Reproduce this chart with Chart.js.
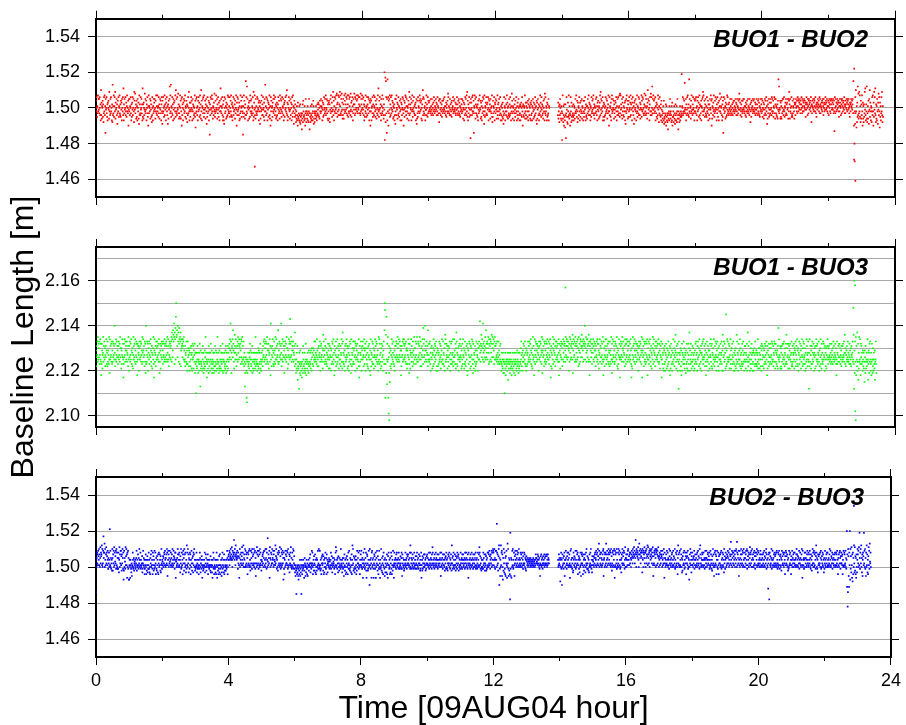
<!DOCTYPE html>
<html>
<head>
<meta charset="utf-8">
<title>Baseline Length</title>
<script src="https://cdn.jsdelivr.net/npm/chart.js@4.4.0/dist/chart.umd.min.js"></script>
<style>
  body { margin: 0; background: #fff; }
  #wrap { position: relative; width: 906px; height: 725px; }
  #wrap canvas { position: absolute; left: 0; top: 0; }
</style>
</head>
<body>
<div id="wrap">
  <canvas id="p1" width="906" height="725"></canvas>
  <canvas id="p2" width="906" height="725"></canvas>
  <canvas id="p3" width="906" height="725"></canvas>
</div>
<script>
// One solution every 30 s, one string per hour (spaces only split it into 5-min blocks).
// Each char is the offset from the base in mm: 0 = base, A..Z = +1..+26,
// a..z = -1..-26, '.' = no solution for that epoch.
const buo12Base = 1.500;
const buo12 = [
  "DbF0eAcGbE aEcF0dBgJd CfA0DeBhcF bGdAnEa0Fc eBgC0DafIb AdEcFb0gBh MdAcGeAFbI fCa0EdBicD bFeA0GcdBe DaCgE0bFdK gBcEa0FdbC eAGb0cDjaE",
  "bEdA0FcgBe CaFd0EbhID aHc0BfDeAg E0bCfiGdBc dFa0EcBgKe BfC0daHbEc aDgB0FcejA GcA0bEfDaB ehdF0gAcEb CaE0fDbGcA dGb0AeFcBf 0EaDcgBFbi",
  "DcFb0eAGdB aEgC0FbdAi BfDa0ELcGb MeA0cFdBgE aCfD0bGeJc EbdF0aHcBf cAeG0DfbEj FdB0gCaEcD bGeA0fDcBh AdFc0IbgCa eCbF0DagEb BfAd0cGeDk",
  "cEbF0dAgDb FaCe0GdBfJ bDgA0EcFae GcaD0fBEbi AeFc0bDgCa oBdFaE0cGb EfA0dCbHae cDbG0aEfBc FaeC0gDbAK bEcA0FdgBe DgiF0cEbAf C0eBdGaFcb",
  "AcFe0DbGdB eCgA0FdbEa BfDc0GajCd FbEa0dCgAf cGbD0eAFbc oAeGcD0fBd OdFbLcE0gA aCfD0eGbDc EbdA0FcgIe CaGd0fEbAc dFbE0aCgDb AiCf0bDGad",
  "BdFa0eCgEb MbAdF0cEgD aCeB0GdfAj FbDg0AeCbE cGaE0dFbBf AeCd0gBFac DbfG0cEaDe bFcA0EdgBC eDaF0bGcJd CgBe0FaDbf aEdC0gBFce GbAi0DceBa",
  "dhbfAgdjCe fcgAdhBiec gdlcfBhDbe dgAfjcEbhd bfcAgdhbEc lcehAfdgBc egbDAifchb dcfAbegdBc aCdBe0fDbA cEbA0DgaCe BdFa0cEbGd 0aEcDfBgbC",
  "DfBhaEcGb0 CebFaIdDgA bFcEa0GcHB eCbGdaFBdI AGcdEbHaCf dEBfaGcDbH BaFcE0dGBe GbcEAFbdHa CeDbFAgcEB aHBdFcEa0G DbEcG0aFBc FAcdHbEBaG",
  "0cEaFdBgAe DbGc0eAFdB aFcE0gDbCj EbDg0AcFeB cGdA0FbeDa BfEc0dGaKb eDaF0cBgEd AcGb0EdfBa TrdQhOFcnE gPbFjDcEaG eBdF0cGaDb CfAe0BgdEi",
  "bEdG0aCfBd FcAe0DbgEa CgBd0FaEcj aDeC0GbFdA EbfA0cDgBI dFcB0aEgCb GaeD0bFcAd BdCg0EifDc eFbA0DcGbE CaDf0gBEJd FbEc0AdgCa aGdB0eFcDb",
  "CbDa0cEbAd aEcB0dCbFa DcAb0EaCdB bFdA0cDhEc EaCd0bBeDa cDbE0aFcAb AdCe0BbDcH FbAc0dEaBd bCeD0aAFcb DaEb0cCdBa aFcB0dDbEc CdAe0bEaBc",
  "EbDf0aCgBd aFcE0dGbIe DgBc0FeaCd qEaC0dFbGc bDnA0GcEfB FcAd0eBgDa cEbG0aDfCe AgDc0FbEdi GbeA0CdFcB dCaF0gEbDa BfEb0cAGeh eDcA0FbgCB",
  "cEaDf0bGdB fCbE0daFcg AdgB0eCfbi dFcA0gEbdB bGeC0fAdcE eBdF0cgAbH DcfA0bEgcB aeDc0FbgAd CfbE0dAgcB gAdC0eFbjA BdeA0cGfbC dAfC0beDgB",
  "bEdA0fCgBd DcgA0EbfCa eBdF0cAgDi CfaE0dBgcA dGbC0eFaBd AcfD0bEgHc FdbA0gCeBd cEgA0..... .......... .......... .....dCfbA hBdE0cfAgb",
  "rcGfhAdjBe gkBdqcFaeh iCbeGdfAcj dFbhCegAdc eBgdA0fcEb cGaeDbhCfA 0dFbgCeaDc bEfA0cgDbe DcaF0gBedA fAcE0bGdCa BdgA0eFcbD aEcG0dBfAc",
  "0cEbFdAgCa DbfA0eCGdI aEcD0bFgAe CgBe0dAFcb EaDf0cBGbj bFdA0eCgEa GcbE0aDfBc aDeC0FbgAd EbFd0cAGeH cGaB0dEfCb FdAe0bCgDi bEcG0aDfBe",
  "DbFa0eCGdB aEgC0FbdAi CfDa0EbgBc GbeA0cFdEa dCfB0aGeDb FaEc0dBHcA bGdE0cAfCJ EcaD0gBFbd HbFd0LcEaG aDcE0bFgAc CeBf0dGaEh AcFd0eBgDa",
  "dhbfcAgDie fchdBjAegc hdlcfbgAdE cfbdhAgCje ebhdAfcigB dgcAhbEfdl bfdhcAgebd eScA0FdbEc DbNa0cEgBd aFcG0dBePb Ec0AfDbGca dBFa0cEgbD",
  "bEcF0dAgDb FaCe0GdBfA cDgA0EbFId GbaD0eBEcd AeFb0cDgBa dBfE0aGcDj EfA0dCbGae cDbF0aEgBc FaeC0gDbAH bEcA0FdgBe DnaF0cEbAf C0eBdGaFcb",
  "BdCa0cEbAd aEcB0dCbDa DcAb0EaCdB bEdA0cDaEH EaCd0bBeDa cDbE0aEcAb AdCe0BbDca EbAc0dEaBh bCeD0aAEcb DaEb0cCdBa aEcB0dDbEc CdAe0bEaBc",
  "EbDe0aCfBd aEcD0dFbAi DfBc0EeaCd cEaC0dFbEc bDeA0FcEfB EcAd0eBfDa PbLc0aDfCe AfDc0EbEda FbeA0CdEcB dCaE0fEbDI BfEb0cAFed eDcA0EbfCB",
  "BdCE0AbDcF AEbD0CaEBc DaBF0cEAbD CbEA0DaCeB aFCB0dEAcD EBaC0DbFAh BcDA0EaCbE DAbF0cBeCA aCEB0DbAFc EBcA0CaDbE CAdE0BbCaF BDaC0EbAcD",
  "AdCE0BbDcE BEaD0CaEBc DbmF0cEAbC CaEB0DbCeA bECA0dEBcD EAbC0DaFBc AcDB0EaCbE DBaE0cAeCB bCEA0DaBEc OcjVtbiFcJ bkAhCeLdHf cIbGeAhDfB",
  "dGbjCfAhBe cIaKdgBbLf hcAfDbiEaJ eCbgA0hbFd GbjCeIaFcK dhBfAgEbiC aHdFbkCeAg cFbIdhAe"
];
// solutions outside the +-26 mm range: [hour, metres]
const buo12Extra = [[4.77, 1.467], [22.77, 1.471], [22.79, 1.470], [22.81, 1.459]];

const buo13Base = 2.127;
const buo13 = [
  "BeDa0FcHbE CaFd0GbEci dEBf0AHcDa FbCe0DaGBd AeFcB0dHbh GbDa0EcFdB cFaE0DbMAe EbGc0FaDBd aDFb0EcHaC CfBd0GaEbj dEaG0cFBDb BFcA0DeHbg",
  "DaFc0EbGBd AeCf0HbDaE cGBd0FaEci EbDA0gCFbD aFcE0BdHAc GBaD0eFcEh MdBc0FaEgA CbFd0EaGBc eDAf0CbHdj BGcA0DeFbC FaDb0EcGAh cEBf0DaFbE",
  "BdFa0EcGbD aEcF0DbHAc GbDe0FaECb DFHcJGaBKI FNHdJGLbQW HIKDaMFJcE LGdHFJeBGD CEaGDFbHBc bDeA0cFdBg dFaC0eBgcA eCbD0fAgEb aDfB0cEhAd",
  "qcAefbDAhc bgdAEcnBfd ceAgbDfAhc dfBeaHcAgb jdcAfbhDAe cgAbEdfBch bdfAcheAgD ecBdgAfbHc dAchfBegbD fcAdbgEAhc bgcAedfBDh cAegbDfAcb",
  "CEaGBNFbhA DCGaKEBcfA IDbAGCe0bD FcHAEbGDaC EBdGaFcHbD dbFaeAcnhd abgsuchbAe dcfAaEbBgd eAbDhcfAgb cdAfbHeAcd bgdAeCfBdh AcEfbdgAcb",
  "BeDa0FcGbE CaFd0EbHcB dEBf0AGcDi NbCe0DaGBd AeFcB0dHbC GbDa0EcKdB cFaE0DbNAe EbGc0FaDBh aDFb0EcHaC CfBd0GaEbF PEaH0cFBDb BFcA0DeJbE",
  "dhbfAgDkce fcoAdhBiec gdjcfAhDbe dgAfhcEbid bfcAgdhBec ecAdfBbgCa AdCe0BbFca FbAc0dGaBe bCeD0aAFcg DaEb0cCfBI aFcB0dDbGc CdAe0bEaBf",
  "EbDf0aCgBd aFcE0dGbAi DgBc0FeaCd GcaD0fBEbd bDeA0GcEfJ FcAd0eBgDa cEbG0aDfCe AgDc0FbEdh GbeA0CdFcB dCaF0gEbDa BfEb0cAGej eDcA0FbgCB",
  "DbFa0eCGdB aEgC0FbdAe CfDa0EbgBi GbeA0cFdEa dCfB0aGeDb FaEc0dBgcH bGdE0cAfCe EcaD0gBFbd KWTsdIhQbm EcHbsaDhAl CeBf0dGaEb AcFd0eBgDa",
  "aDFb0EcHaC EbGc0FaDBi BeDa0FcGbE GbDa0EcFdB CfBd0GaEbh dEBf0AGcDa AeFcB0dHbC CaFd0EbHcj cFaE0DbHAe FbCe0DaGBd LEaG0cMBDb BFcA0DeKbE",
  "0cEbFdAgCa DbfA0eCGdB aEcD0bFgAe CgBe0dAFcb EaDf0cBGbd bFdA0eCgEI GcbE0aDfBc aDeC0FbgAd EbFd0cAGea cGaB0dEfCJ FdAe0bCgDa bEcG0aDfBe",
  "bEdG0aCfBd FcAe0DbgEi CgBd0FaEcf aDeC0GbFdh EbfA0cDgBe dFcB0aEgCb CFbDOAcEBI DaGCbNEAcF BDaHbCKaEA FbECHAdGcE DGbFAcIEaH CEaGBdFbHD",
  "DbEa0cFbAd aFcB0dDbEc cgdAebfAhc bhdqcAfidb ecgbAdkcfA bdhcAfbeic dfAcgbehAd cibdAfgcBe bdAhcfeAgc dCbF0eAgcB aEcD0bFdAe CgBe0dAFcb",
  "DaFc0EbGBd AeCf0HbDai cGBd0FaEcB EbDA0gCFbD aFcE0BdHAh GBaD0eFcEb BdFc0EaGAb CbFd0EaGBj eDAf0CbHdE BGcA0DeFbC FaDb0EcGAi cEBf0DaFbE",
  "CeEbGAcFDa EBcH0DaGFb DaFCBgEcHA GbDaECFbIh BEGa0FcDHb EcADFbGaCe HBdEAcGFaD CIaFDBcGEb FDMbECHAcG BGaDEcIbFi DcFBGaEAdC EAGbDcFBaE",
  "BeDa0FcGbE dEBf0AGcDa CaFd0EbHci FbCe0DaGBd GbDa0EcFdB AeFcB0dHbh EbGc0FaDBd cFaE0DbHAe CfBd0GaEbj aDFb0EcHaC BFcA0DeGbE dEaG0cFBDb",
  "DaFc0EbGBd jeCf0HbDaE cGBd0FaEcB EbDA0gCFbD aFcE0BdHAj GBaD0eFcEb AdFc0EaGib CbFd0EaGBc eDAf0CbHdE BGcA0DeFbC FaDb0EcGAd cEBf0DaFbj",
  "bEdA0fCgBd DcgA0EbfCa eBdF0cAgDi CfaE0dBgcA dGbC0eFaBI AcfD0bEgAc oFdbA0gCeB icEgA0bdFa dCfbA0hBdE cfAgbE0dCJ gBbdE0cfAc DebC0gAfdB",
  "bEcF0dAgDb FaCe0GdBfA cDgA0EbFad GbaD0eBEci AeFb0cDgBa dBfE0aGcDe EfA0dCbGae cDbF0aEgBc FaeC0gDbAd bEcA0FdgBI DgaF0cEbAf CReBdGaFcb",
  "cEaDf0bGdB fCbE0daFcg AdgB0eCfbI dFcA0gEbdB bGeC0fAdcE eBdF0cgAbD DcfA0bEgcJ aeDc0FbgAd CfbE0dAgcB gAdC0eFbdA BdeA0cGfbC dAfC0beDgB",
  "EbDe0aCfBd aEcD0dFbAi DfBc0EeaCd cEaC0dFbEc bDeA0FcEfB EcAd0eBfDa LbGc0aDfCe AfDc0EbEda FbeA0CdEcI dCaE0fEbDa BfEb0cAFed eDcA0EbfCB",
  "AcFe0DbGdB eCgA0FdbEa BfDc0GaeCd FbEa0dCgAf cGbD0eAFbc oAeGcD0fBd DdFbAcE0gA aCfD0eGbDc EbdA0FcgBe CaGd0fEbAc dFbE0aCgDb AeCf0bDGad",
  "CbDa0cEbAd aEcB0dCbFa DcAb0EaCdi bFdA0cDaEc EaCd0bBeDa cDbE0aFcAI AdCe0BbDca FbAc0dEaBd bCeD0aAFcb UIdoBhFycH iDbeJgcEkA fHcbGdiEaD",
  "dAcgBbeAfc lBahDcfbAe cGbkdBAhEc FbgdAicEbh eCgbAdfBkc bFdh"
];
const buo13Extra = [[8.79, 2.101], [8.81, 2.098], [14.1, 2.157], [22.78, 2.160], [22.80, 2.158], [22.82, 2.098]];

const buo23Base = 1.503;
const buo23 = [
  "qAcBEaDbFC AGbDcBHaEC DIbGcaFNBE EJcGAbDHaE CbFAdBaEcA RbFcBdaAeG BeDaFcHbE0 CaFdGbEcBd dEBfAHcDaF FbCeDaGBdE jeFcB0dHbC GbDiEcFdBj",
  "jbAciAbdfa hcbEAdcBea 0bAdcaBFeb AcDbdBaGcA bEdAcbaCfd aFbBcAgdbA DcgAebCfAd bEdAfcgBaD cFbAdgEbCe AdFbcEagBd eCbAfDgaEc bDAeCfbGad",
  "A0bCcBaEDb FAcBbDaGEh bAFDcBaF0b AEcBbDaGcA bFCaBdAEEi 0AcbBaGDcA DbEcAfCaGd cEbAgDFaBe GaDcEbfAdI bEcGaDfBAd EbDgAcFaeB aCfEbDGcAe",
  "cdAbEcfaAd bcgAdbEBcf aAdCbicAeb dcAbEfcaDB ecbAaDgcAb dAcbeCfbcA fbiAcEdBgc bdAfcgAEbi cAegbdCfbD gdbAchfBEd bAcfDgAebc ecAdbFBgcA",
  "CDAFbEBCGA DBHAcFCEBD LEAGCbIDBE ACFBdEaCbi BGcDAaEbCH AbEaIcBDAc GcFbDaEcBg EbDaFcGbAe cFaBEdGbCa DbGcEaFdBh aEcHbDFaCd FbDcGaEbAe",
  "A0bCDaEcBF FbAcGaBGdE AcM0bDBaFi HBcAEbDaGa BAFcDbFA0b IaCGBdAcEe DbFaEcHbCd aGcEbDFaBj EdBgAcFbDa CaFbEdGcAb DfCaEbHcBd bEAcGdFaCb",
  "dfbhcerdgb fchdjbegcA hdfbrAcgeb dAcbieBach bfcAdgahcb AebcBaDfca dbFaEcgbAe CaebDfAgcB eAcbFdaGbd cFbeAdgBaC bDaeCgAfcB aEcdBgDbAf",
  "a0bcBAd0cb AEdbCafcBb 0aBdcAgbEH cFbAdBafCc aeBcbAdGca bAfcBdaBhc DbeAcgBfaC cAgbEdaFbd eBcAfbDgAI bGaeCdBfcA dCbgAeFcaB aEdbFcgAbD",
  "bFcAdBaicE aAbGdcBaEe ibDCaedAFb cmGAbdBaiE FcAbBdiaDC bdAEicBaFb eCbgAdFcai AdcGbeBfaC gbEcAdhBfa cAfbDgaiCb EbdAcgBfaE dCgbAeFcbi",
  "aEbAcBadDA EbcAaBdEac AdbCacBEdh DaBbcAedAb aEcAbBdDaC bDaAcbBEdI cEaBdAbDca BdaEcbAdCb aCdEbAcBda DbaCeAdbEi bAeCdaBcDa cDbAeBdaCb",
  "DaBbcAEdbA aEcBbAdDaH EbAcaBdDbA cEaBbAcDdA aDbcAaBEch AEbcBadDAb bDcAeBaCdE cAdBeaDbCa EcBdAbDaeI aBdCbEcAdb DbAeCcaBdE bCaDeBcAbd",
  "bEaAcBdDaA DcbAaBdEcA aEBbcAdDai EbAcaBdDbA cEAbBadDcA aDcBbEdAcb BdaEcAbDcH EbCdaBecAd cAdEbBaDce aDbCeAdBcE bEcDaFbCdA DaBFcEbAGF",
  "EbAGcBdAFF AcUEbDaeCG ImBdhAcIbE FhDcjBeGaf EdgBhCaFbi cJaGdhBeAg uPdhBiAcFb GcdAEbhCaF DAcbBFaDcE AbGcBaAbEc DaBcEbAdCa bEaDcBdAeC",
  "A0bBacA0bB 0aAcBb0aAc b0AaBcb0Aa cAbDBaB0aA DbCaAcBdbh aCbDcAbBda CaAbDcBaCb bDaCcAbDaB Aa........ .......... .......... ....AcbDaB",
  "bAkcBEdAmc DbBadCaEhA cAFBbdaCEb AEcBbDaicF bGAcBdaBfe EAbCcBaFdA cFbDaEgAbC dBfAcEbhaD EaCbgDcAeB bDAfcEaGbd CadBeAfcDb aEcGbdAfCb",
  "A0bCcBaDEb BAFcDbEaGC AbJFcBDaEb EBcAbDaFGh ABEcDbEaJD cAFBbDaGEA DbFaEcGbCe aEcFbDAGci FbDcEaGdAc bEaGcDFbAd EcAfBDaGbE CaFbEdAHcB",
  "BDcADbAFGb ACbDEaEBcA DFBCaGEBDH CFaDBLEcGD FCEBHAcDJF DBGaECEFBf GAEcFDBHaE EcFBGaDCIb HBDaEFcGCA FDBGaECHbh CaEFbDGBcF EGbDFaCHBc",
  "CAEbDBaFDC BcFAbDaGBi EaBcAbDaFb AEcBbAdGCa FbAcBaDEcb AFbCcBaGdA cEbDaFcgBI aDbEcFbAcG DcBfAeCbEa bFdAcEaCgB EaCbFdBcAj cDaGbEAfCb",
  "EbAcBaCFdA bDAcBbDaEc AFbCaBdGcI DaBbcAEDbA cEAbBdAFcB aFBcAbDEaA CbEdAcFbDa dAeCbGaDch bEcFaDbCgA FcAdEbgCaD aDcEbFdAcB EbDcAfGaCd",
  "AEBcBbDaCF BaEcAbGDCa KAbDFcBEaE CbAFDcBaFG AcKEbDBaFh AbFcBaDGAb DaFcEbGAcB EcBaDFbAGd FbCAEcDaBH bEDaFcAGcB DAcEbFaCdE CbEAGcDbFa",
  "EbAcBaDFcA bDAcBbDaEc AFbCcBaEGd DAbcBoaDEu AEbCcaBGdA bFAcBbDaEc CbDaEcFbAd aEcDbFAdCb DcBeAFbCaE bDcEaAgCbF EaCbDcAeBd cFbDaEbAgC",
  "bAFcBaDcEA aEbAcBbDGc DAbCcBaFdA aEBbcADGbi FcAbBdAEcB EaBcAbDFAa cEbDAaFcBd DbAeCbGaEc aFcDbEAdCI EcBdAfDbCa bDaEcBFdAc CaEbDcAfBd",
  "aFbAcBDaEc EbAcBbaDGc AFbcCBaEdA DaBbcADEbA cEbDaFcAgB bDcEaFBdCa EaCbDgAcFb cEDbaFcBdA QnDyqGChnE bQjGdCfHbi DkEgBcIafH eCgBiDcfAG",
  "DaFcHbPBdE GaIcBfDhAE CbPaFcGdBh EcIbDfAgCH bFdJ0aEc"
];
const buo23Extra = [[22.88, 1.534]];

// axis ticks
const hourTicks = [0, 2, 4, 6, 8, 10, 12, 14, 16, 18, 20, 22, 24];
const hourLabels = [0, 4, 8, 12, 16, 20, 24];
const gridNear150 = [1.46, 1.47, 1.48, 1.49, 1.50, 1.51, 1.52, 1.53, 1.54];
const labelsNear150 = ['1.46', '1.48', '1.50', '1.52', '1.54'];
const gridNear213 = [2.10, 2.11, 2.12, 2.13, 2.14, 2.15, 2.16, 2.17];
const labelsNear213 = ['2.10', '2.12', '2.14', '2.16'];

const EPOCHS_PER_HOUR = 120;

function decode(lines, base, extra) {
  const pts = [];
  lines.forEach((line, hour) => {
    const s = line.replace(/ /g, '');
    for (let i = 0; i < s.length; i++) {
      const c = s[i];
      if (c === '.') continue;
      let off = 0;
      if (c >= 'A' && c <= 'Z') off = c.charCodeAt(0) - 64;
      else if (c >= 'a' && c <= 'z') off = 96 - c.charCodeAt(0);
      pts.push({ x: hour + i / EPOCHS_PER_HOUR, y: Math.round(base * 1000 + off) / 1000 });
    }
  });
  extra.forEach(e => pts.push({ x: e[0], y: e[1] }));
  return pts;
}

const FONT = "'Liberation Sans', Arial, Helvetica, sans-serif";
Chart.defaults.font.family = FONT;
Chart.defaults.color = '#000';

// baseline name in the upper right corner of each panel
const panelTitle = {
  id: 'panelTitle',
  afterDraw(chart, args, opts) {
    const { ctx, chartArea } = chart;
    ctx.save();
    ctx.font = 'italic bold 24px ' + FONT;
    ctx.fillStyle = '#000';
    ctx.textAlign = 'right';
    ctx.textBaseline = 'alphabetic';
    ctx.fillText(opts.text, chartArea.right - 27, chartArea.top + 28);
    ctx.restore();
  }
};

function makePanel(id, p) {
  const bottomH = p.xLabels ? 68 : 8;
  const isMajor = c => c.tick && hourLabels.includes(c.tick.value);
  const yTickColor = c => (c.tick && p.labels.includes(c.tick.value.toFixed(2))) ? '#000' : 'rgba(0,0,0,0)';
  const frame = { display: true, color: '#000', width: 2 };
  const setHourTicks = s => { s.ticks = hourTicks.map(v => ({ value: v })); };
  const setYTicks = s => { s.ticks = p.grid.map(v => ({ value: v })); };

  return new Chart(document.getElementById(id), {
    type: 'scatter',
    data: {
      datasets: [{
        data: p.points,
        backgroundColor: p.color,
        borderWidth: 0,
        pointStyle: 'rect',
        pointRadius: 1.2,
        pointHoverRadius: 1.2
      }]
    },
    plugins: [panelTitle],
    options: {
      responsive: false,
      animation: false,
      events: [],
      layout: { padding: { left: 0, right: 3, top: p.top - 8, bottom: 725 - p.top - 180 - bottomH } },
      plugins: {
        legend: { display: false },
        tooltip: { enabled: false },
        panelTitle: { text: p.title }
      },
      scales: {
        x: {
          type: 'linear', position: 'bottom', min: 0, max: 24,
          afterBuildTicks: setHourTicks,
          afterFit: s => { s.height = bottomH; },
          grid: {
            drawOnChartArea: false, tickLength: 8, tickColor: '#000',
            tickBorderDash: c => isMajor(c) ? [] : [3, 20]
          },
          border: frame,
          ticks: {
            display: p.xLabels, padding: 5, font: { size: 18 },
            maxRotation: 0, autoSkip: false,
            callback: v => hourLabels.includes(v) ? String(v) : ''
          },
          title: {
            display: p.xLabels, text: 'Time [09AUG04 hour]',
            font: { size: 32, lineHeight: 1 }, padding: 0
          }
        },
        xTop: {
          type: 'linear', axis: 'x', position: 'top', min: 0, max: 24,
          afterBuildTicks: setHourTicks,
          afterFit: s => { s.height = 8; },
          grid: {
            drawOnChartArea: false, tickLength: 8, tickColor: '#000',
            tickBorderDash: c => isMajor(c) ? [] : [4, 4],
            tickBorderDashOffset: c => isMajor(c) ? 0 : 4
          },
          border: frame,
          ticks: { display: false }
        },
        y: {
          type: 'linear', position: 'left', min: p.min, max: p.max,
          afterBuildTicks: setYTicks,
          afterFit: s => { s.width = 96; },
          grid: { color: '#a8a8a8', lineWidth: 1, tickLength: 8, tickColor: yTickColor },
          border: frame,
          ticks: {
            padding: 8, font: { size: 18 },
            callback: v => { const t = Number(v).toFixed(2); return p.labels.includes(t) ? t : ''; }
          },
          title: {
            display: !!p.yTitle, text: p.yTitle || '',
            font: { size: 32, lineHeight: 1 }, padding: { top: 8, bottom: 0 }
          }
        },
        yRight: {
          type: 'linear', axis: 'y', position: 'right', min: p.min, max: p.max,
          afterBuildTicks: setYTicks,
          afterFit: s => { s.width = 8; },
          grid: { drawOnChartArea: false, tickLength: 8, tickColor: yTickColor },
          border: frame,
          ticks: { display: false }
        }
      }
    }
  });
}

makePanel('p1', {
  points: decode(buo12, buo12Base, buo12Extra), color: '#ff0000',
  min: 1.45, max: 1.55, grid: gridNear150, labels: labelsNear150,
  title: 'BUO1 - BUO2', top: 17, xLabels: false
});
makePanel('p2', {
  points: decode(buo13, buo13Base, buo13Extra), color: '#00ff00',
  min: 2.095, max: 2.175, grid: gridNear213, labels: labelsNear213,
  title: 'BUO1 - BUO3', top: 247, xLabels: false, yTitle: 'Baseline Length [m]'
});
makePanel('p3', {
  points: decode(buo23, buo23Base, buo23Extra), color: '#0000ff',
  min: 1.45, max: 1.55, grid: gridNear150, labels: labelsNear150,
  title: 'BUO2 - BUO3', top: 477, xLabels: true
});
</script>
</body>
</html>
